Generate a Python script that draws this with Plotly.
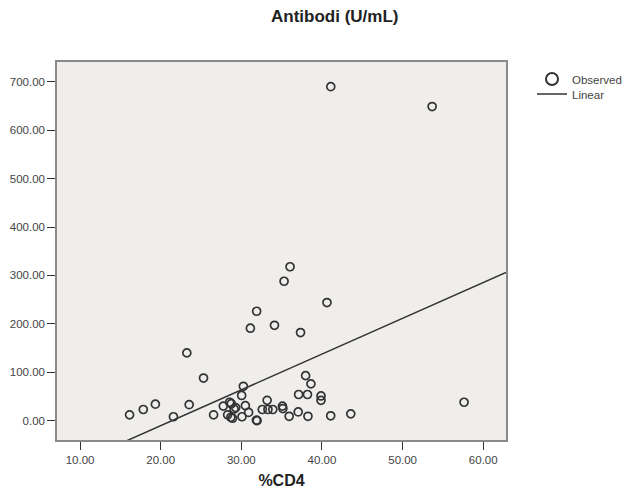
import plotly.graph_objects as go

# %CD4 (x) and Antibodi U/mL (y)
cd4 = [16.14, 17.84, 19.34, 21.58, 23.24, 23.53, 25.31, 26.56,
       27.76, 28.55, 28.75, 28.3, 29.1, 28.7, 28.9, 29.3, 30.08, 30.5,
       30.9, 30.04, 30.25, 31.12, 31.9, 31.87, 31.95, 32.6,
       33.2, 33.3, 33.9, 34.11, 35.1, 35.15, 35.3, 35.93, 36.04, 37.05,
       37.1, 37.34, 37.97, 38.2, 38.26, 38.63, 39.88, 39.88, 40.62,
       41.08, 41.09, 43.57, 53.66, 57.62]
antibodi = [12, 23, 34, 8, 140, 33, 88, 12,
            30, 38, 35, 12, 24, 7, 5, 27, 8, 31,
            17, 52, 71, 191, 226, 1, 0, 23,
            42, 23, 23, 197, 30, 25, 288, 9, 318, 18,
            54, 182, 93, 54, 9, 76, 51, 42, 244,
            10, 690, 14, 649, 38]

# Linear fit
fit_intercept = -158.2
fit_slope = 7.39

x_ticks = [10, 20, 30, 40, 50, 60]
y_ticks = [0, 100, 200, 300, 400, 500, 600, 700]
x_range = [7.14, 62.82]
y_range = [-40, 741]

line_x = [x_range[0], x_range[1]]
line_y = [fit_intercept + fit_slope * v for v in line_x]

font_family = "Liberation Sans, Arial, sans-serif"
ink = "#333333"

fig = go.Figure()
fig.add_trace(go.Scatter(
    x=cd4, y=antibodi, mode="markers", name="Observed",
    marker=dict(symbol="circle-open", size=8, color=ink,
                line=dict(width=1.7, color=ink)),
    cliponaxis=False, legend="legend",
))
fig.add_trace(go.Scatter(
    x=line_x, y=line_y, mode="lines", name="Linear",
    line=dict(color=ink, width=1.5), legend="legend2",
))

axis_common = dict(
    showgrid=False, zeroline=False, showline=True, mirror=True,
    linecolor="#8a8a8a", linewidth=1.5, automargin=False,
    ticks="outside", ticklen=8, tickwidth=1.2, tickcolor=ink,
    tickfont=dict(family=font_family, size=11.5, color="#444444"),
)

legend_common = dict(
    xanchor="left", yanchor="middle", bgcolor="rgba(0,0,0,0)",
    font=dict(family=font_family, size=11.5, color="#444444"),
)

def py(px):
    return 1 - (px - 62) / 378

def pxx(px):
    return (px - 57) / 449

fig.update_layout(
    width=625, height=493,
    margin=dict(l=57, r=119, t=62, b=53, autoexpand=False),
    paper_bgcolor="white",
    plot_bgcolor="#efeeec",
    font=dict(family=font_family, color=ink),
    showlegend=True,
    legend=dict(x=pxx(532), y=py(79), itemsizing="constant", **legend_common),
    legend2=dict(x=pxx(532), y=py(94), itemsizing="trace", **legend_common),
    xaxis=dict(range=x_range, tickvals=x_ticks,
               ticktext=[f"{v:.2f}" for v in x_ticks],
               title=dict(text="<b>%CD4</b>", standoff=10,
                          font=dict(family=font_family, size=16, color="#222222")),
               **axis_common),
    yaxis=dict(range=y_range, tickvals=y_ticks,
               ticktext=[f"{v:.2f}" for v in y_ticks],
               **axis_common),
    annotations=[dict(
        text="<b>Antibodi (U/mL)</b>", xref="paper", yref="paper",
        x=pxx(334), y=py(17),
        xanchor="center", yanchor="middle", showarrow=False,
        font=dict(family=font_family, size=17, color="#222222"),
    )],
)

fig.write_html("out.html")
